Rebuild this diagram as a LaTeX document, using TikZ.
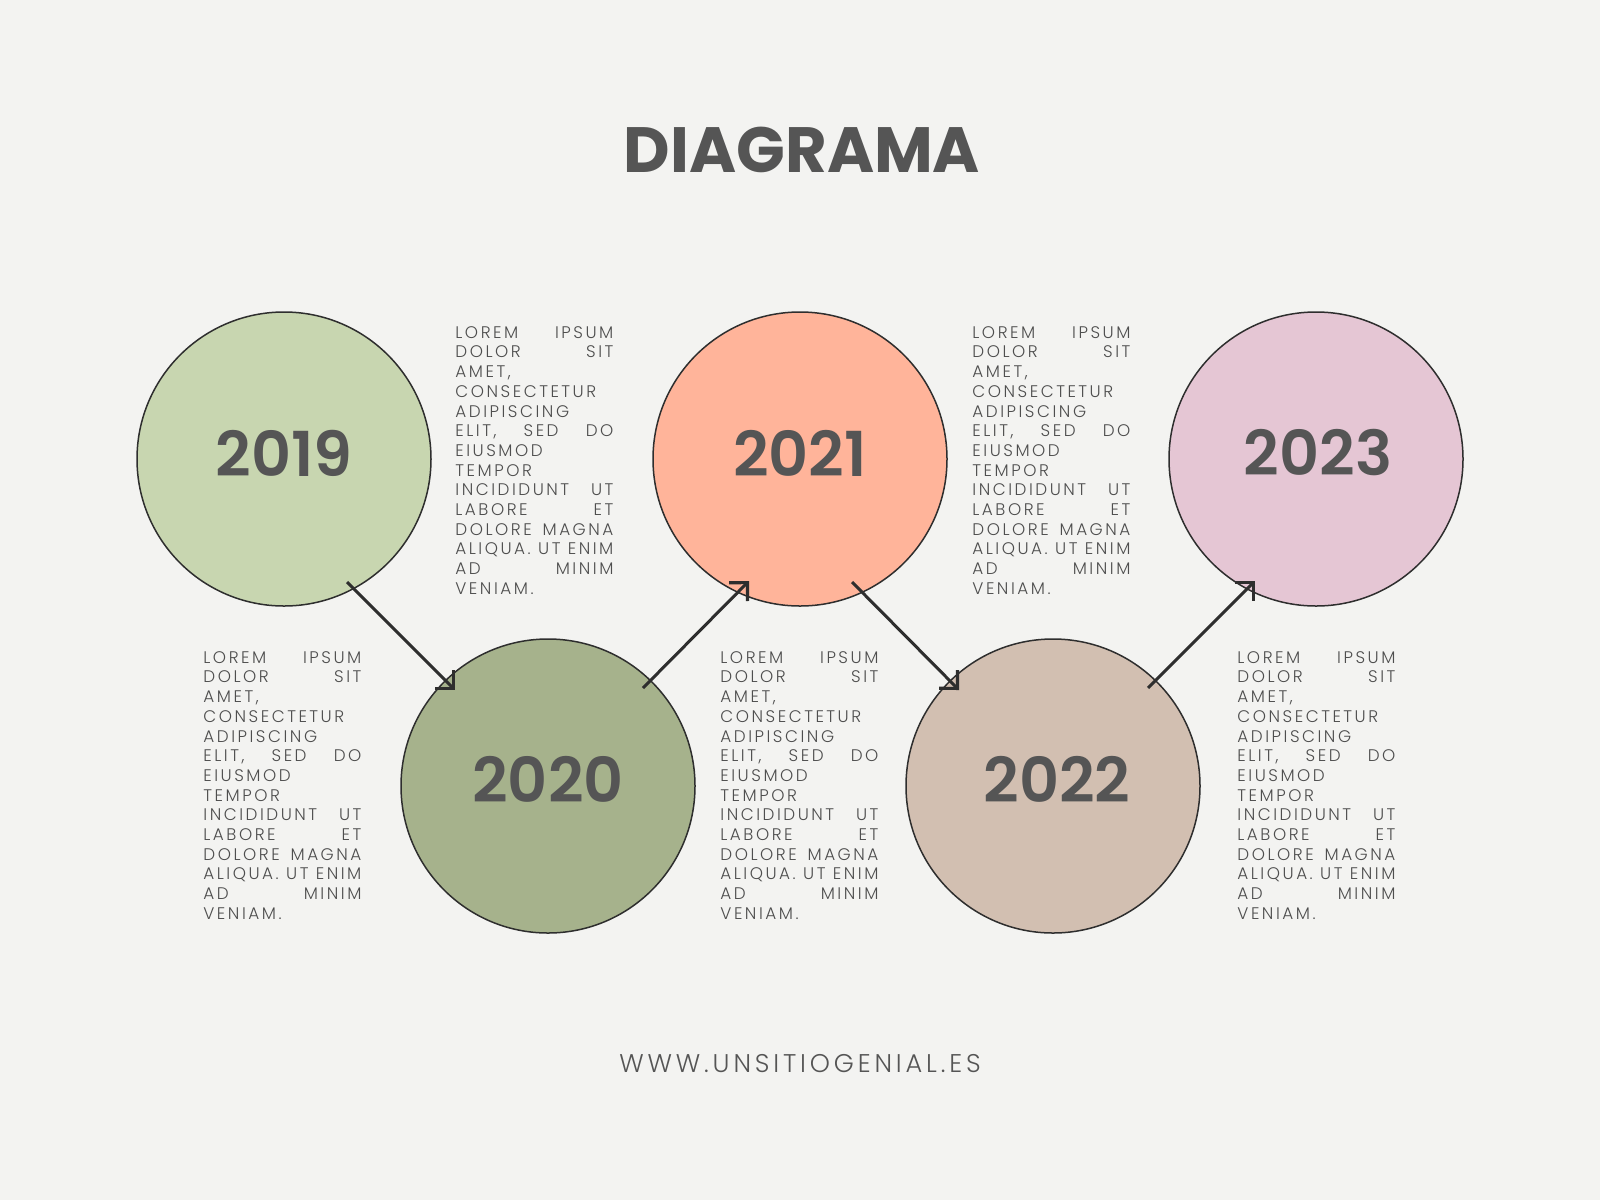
\documentclass[tikz,border=0pt]{standalone}
\usepackage{fontspec}
\setmainfont{Poppins}
\newfontfamily\yearfont{Poppins SemiBold}
\newfontfamily\bodyfont[LetterSpace=15]{Poppins Light}
\newfontfamily\footfont[LetterSpace=15]{Poppins Light}
\usetikzlibrary{calc,arrows.meta}
\definecolor{bgcol}{HTML}{F3F3F1}
\definecolor{inkgray}{HTML}{555555}
\definecolor{bodygray}{HTML}{4E4E4E}
\definecolor{edgecol}{HTML}{2E2E2E}
\definecolor{cA}{HTML}{C8D6B0}
\definecolor{cB}{HTML}{A6B28C}
\definecolor{cC}{HTML}{FFB49A}
\definecolor{cD}{HTML}{D2BFB1}
\definecolor{cE}{HTML}{E5C6D4}
\newcommand\loremtext{LOREM\hfill IPSUM\\
DOLOR\hfill SIT\\
AMET,\\
CONSECTETUR\\
ADIPISCING\\
ELIT,\hfill SED\hfill DO\\
EIUSMOD\\
TEMPOR\\
INCIDIDUNT\hfill UT\\
LABORE\hfill ET\\
DOLORE\hfill MAGNA\\
ALIQUA.\hfill UT\hfill ENIM\\
AD\hfill MINIM\\
VENIAM.}
\tikzset{
  yearcircle/.style={circle, draw=edgecol, line width=0.75pt, minimum size=147pt, inner sep=0pt},
  yearlabel/.style={inner sep=0pt, text=inkgray, font=\yearfont\fontsize{31pt}{31pt}\selectfont},
  bodytext/.style={inner sep=0pt, anchor=north west, text width=79pt, align=left, text=bodygray,
    font=\bodyfont\fontsize{8.4pt}{9.85pt}\selectfont},
  flowarrow/.style={draw=edgecol, line width=1.5pt, -{Straight Barb[length=6.5pt,width=13pt,line width=1.6pt]}}
}
\begin{document}
\begin{tikzpicture}[x=0.5pt,y=-0.5pt]
\fill[bgcol] (0,0) rectangle (1600,1200);
\useasboundingbox (0,0) rectangle (1600,1200);
% title
\node[inner sep=0pt, text=inkgray, font=\fontsize{32pt}{32pt}\selectfont\bfseries] (title) at (802,150) {DIAGRAMA};
% circles
\node[yearcircle, fill=cA] (c19) at (284,459) {};
\node[yearcircle, fill=cB] (c20) at (548,786) {};
\node[yearcircle, fill=cC] (c21) at (800,459) {};
\node[yearcircle, fill=cD] (c22) at (1053,786) {};
\node[yearcircle, fill=cE] (c23) at (1316,459) {};
\node[yearlabel] (y19) at ($(c19.center)+(0,-6)$) {2019};
\node[yearlabel] (y20) at ($(c20.center)+(0,-7)$) {2020};
\node[yearlabel] (y21) at ($(c21.center)+(0,-6)$) {2021};
\node[yearlabel] (y22) at ($(c22.center)+(4,-7)$) {2022};
\node[yearlabel] (y23) at ($(c23.center)+(2,-6)$) {2023};
% arrow end points
\coordinate (s1) at ($(c19.center)+(63,123)$);
\coordinate (e1) at ($(c20.center)+(-93,-96)$);
\coordinate (s2) at ($(c20.center)+(95,-98)$);
\coordinate (e2) at ($(c21.center)+(-51,122)$);
\coordinate (s3) at ($(c21.center)+(52,123)$);
\coordinate (e3) at ($(c22.center)+(-94,-96)$);
\coordinate (s4) at ($(c22.center)+(95,-98)$);
\coordinate (e4) at ($(c23.center)+(-61,122)$);
\draw[flowarrow] (s1) -- (e1);
\draw[flowarrow] (s2) -- (e2);
\draw[flowarrow] (s3) -- (e3);
\draw[flowarrow] (s4) -- (e4);
% text blocks
\node[bodytext] (tA) at (455,326) {\loremtext};
\node[bodytext] (tB) at (203,651) {\loremtext};
\node[bodytext] (tC) at (720,651) {\loremtext};
\node[bodytext] (tD) at (972,326) {\loremtext};
\node[bodytext] (tE) at (1237,651) {\loremtext};
% footer
\node[inner sep=0pt, text=inkgray, font=\footfont\fontsize{12.8pt}{12.8pt}\selectfont] (url) at (800,1064) {WWW.UNSITIOGENIAL.ES};
\end{tikzpicture}
\end{document}
